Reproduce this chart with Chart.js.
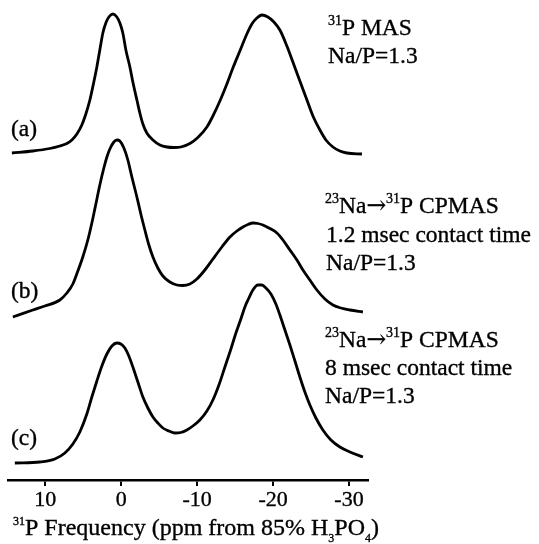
<!DOCTYPE html>
<html>
<head>
<meta charset="utf-8">
<script src="https://cdn.jsdelivr.net/npm/chart.js@4.4.0/dist/chart.umd.min.js"></script>
<style>
  html, body { margin: 0; padding: 0; background: #fff; }
</style>
</head>
<body>
<canvas id="nmr" width="539" height="544"></canvas>
<script>
// 31P chemical shift (ppm) and intensity (arb. units) for each spectrum
const ppmA = [14.39, 11.63, 9.39, 8.07, 7.15, 6.49, 5.83, 5.18, 4.65, 4.12, 3.60, 3.20, 2.81, 2.41, 2.02, 1.62, 1.09, 0.57, 0.17, -0.22, -0.62, -1.15, -1.54, -2.07, -2.46, -2.86, -3.38, -4.18, -5.10, -6.02, -6.94, -7.86, -9.05, -10.10, -11.29, -12.08, -13.00, -13.92, -14.71, -15.63, -16.55, -17.21, -17.87, -18.53, -19.32, -20.11, -20.90, -21.82, -22.61, -23.53, -24.46, -25.25, -26.17, -26.96, -27.88, -28.80, -29.72, -31.70];
const intA = [2, 4, 6.5, 9, 11.5, 15, 21, 30, 41, 55, 73, 88, 105, 122, 132, 138, 141, 138, 132, 122, 105, 88, 73, 55, 42, 31, 22, 15, 10, 8, 7.5, 8, 11.5, 17.5, 28, 39, 54, 71, 87, 104, 121, 131, 137, 140, 138, 133, 125, 109, 93, 74, 55, 39, 25, 15, 8, 4, 2, 1];

const ppmB = [14.26, 11.63, 10.05, 8.07, 7.15, 6.36, 5.70, 5.05, 4.39, 3.86, 3.33, 2.81, 2.28, 1.88, 1.49, 0.96, 0.57, 0.17, -0.36, -0.88, -1.41, -2.07, -2.59, -3.12, -3.65, -4.18, -4.83, -5.49, -6.41, -7.34, -8.13, -9.05, -9.97, -11.02, -12.08, -13.26, -14.32, -15.24, -16.03, -16.69, -17.34, -18.00, -18.66, -19.58, -20.51, -21.30, -22.22, -23.14, -23.93, -24.85, -25.77, -26.83, -27.88, -28.93, -30.12, -31.83];
const intB = [1, 8, 12, 18, 25, 34, 47, 61, 78, 95, 114, 133, 150, 161, 169, 176, 178, 177, 170, 158, 141, 121, 104, 88, 73, 61, 50, 42, 36, 33, 32.5, 34, 39, 48, 59, 71, 81, 87, 91, 93.5, 95, 94.5, 93, 89.5, 85, 78, 68, 58, 48, 38, 28, 19, 13, 10, 8, 6];

const ppmC = [14.00, 10.71, 8.73, 7.41, 6.36, 5.44, 4.52, 3.86, 3.20, 2.54, 1.88, 1.22, 0.57, 0.04, -0.49, -1.01, -1.54, -2.20, -2.86, -3.52, -4.18, -4.83, -5.49, -6.28, -7.07, -7.86, -8.65, -9.44, -10.36, -11.29, -12.08, -12.87, -13.66, -14.45, -15.11, -15.76, -16.29, -16.82, -17.34, -18.00, -18.53, -19.06, -19.72, -20.37, -20.90, -21.56, -22.22, -22.88, -23.53, -24.19, -24.85, -25.64, -26.56, -27.62, -28.80, -30.12, -31.83];
const intC = [2, 3, 6, 12, 21, 33, 51, 68, 84, 99, 111, 119, 122, 121, 117, 109, 98, 83, 68, 57, 48, 42, 37, 34, 32, 32.5, 35, 39, 45, 54, 65, 80, 98, 116, 132, 146, 158, 167, 175, 180, 180, 177, 171, 161, 150, 135, 120, 104, 88, 73, 60, 47, 35, 25, 18, 13, 8];

const xTicks = [10, 0, -10, -20, -30];

const SERIF = '"Liberation Serif", "Times New Roman", serif';
const ARROW_FONT = '"DejaVu Serif", serif';

function pairs(xs, ys) {
  return xs.map((x, i) => ({ x: x, y: ys[i] }));
}

function trace(xs, ys, axis) {
  return {
    data: pairs(xs, ys),
    yAxisID: axis,
    borderColor: '#000',
    borderWidth: 2.8,
    pointRadius: 0,
    fill: false,
    cubicInterpolationMode: 'monotone',
    clip: false
  };
}

// Text with superscript / subscript runs, drawn left to right
function drawRich(ctx, item) {
  let cx = item.x;
  for (const [text, mode, family] of item.parts) {
    const small = mode === 'sup' || mode === 'sub';
    const s = small ? item.small : item.size;
    const dy = mode === 'sup' ? -item.rise : (mode === 'sub' ? item.drop : 0);
    ctx.font = s + 'px ' + (family || SERIF);
    ctx.strokeText(text, cx, item.y + dy);
    ctx.fillText(text, cx, item.y + dy);
    cx += ctx.measureText(text).width;
  }
}

const captions = {
  id: 'captions',
  afterDraw(chart, args, opts) {
    const ctx = chart.ctx;
    ctx.save();
    ctx.fillStyle = '#000';
    ctx.strokeStyle = '#000';
    ctx.lineWidth = 0.35;
    ctx.textBaseline = 'alphabetic';
    ctx.textAlign = 'left';
    for (const item of opts.items) {
      drawRich(ctx, item);
    }
    ctx.restore();
  }
};

const arrowLine = [['23', 'sup'], ['Na'], ['\u2192', null, ARROW_FONT], ['31', 'sup'], ['P CPMAS']];

function caption(x, y, parts) {
  return { x: x, y: y, size: 23.5, small: 14, rise: 10, drop: 6, parts: parts };
}

new Chart(document.getElementById('nmr'), {
  type: 'line',
  data: {
    datasets: [
      trace(ppmA, intA, 'ya'),
      trace(ppmB, intB, 'yb'),
      trace(ppmC, intC, 'yc')
    ]
  },
  options: {
    responsive: false,
    animation: false,
    events: [],
    layout: { padding: { left: 8, right: 171, top: 0, bottom: 0 } },
    plugins: {
      legend: { display: false },
      tooltip: { enabled: false },
      title: { display: false },
      captions: {
        items: [
          caption(328, 35, [['31', 'sup'], ['P MAS']]),
          caption(328, 63, [['Na/P=1.3']]),
          caption(325, 213, arrowLine),
          caption(326, 242, [['1.2 msec contact time']]),
          caption(326, 270, [['Na/P=1.3']]),
          caption(325, 347, arrowLine),
          caption(325, 375, [['8 msec contact time']]),
          caption(325, 403, [['Na/P=1.3']]),
          caption(11, 136, [['(a)']]),
          caption(11, 298, [['(b)']]),
          caption(11, 445, [['(c)']]),
          { x: 13, y: 535, size: 24, small: 12, rise: 10, drop: 7,
            parts: [['31', 'sup'], ['P Frequency (ppm from 85% H'], ['3', 'sub'], ['PO'], ['4', 'sub'], [')']] }
        ]
      }
    },
    scales: {
      x: {
        type: 'linear',
        position: 'bottom',
        reverse: true,
        min: -32.5,
        max: 14.9,
        afterBuildTicks: (s) => { s.ticks = xTicks.map(v => ({ value: v })); },
        afterFit: (s) => { s.height = 64; },
        border: { display: true, color: '#000', width: 2.5 },
        grid: { drawOnChartArea: false, drawTicks: true, tickLength: 6, color: '#000', lineWidth: 2 },
        ticks: {
          color: '#000',
          padding: 1,
          maxRotation: 0,
          autoSkip: false,
          textStrokeColor: '#000',
          textStrokeWidth: 0.35,
          font: { family: SERIF, size: 22 },
          callback: (v) => String(v)
        }
      },
      ya: { display: false, min: -325, max: 155 },
      yb: { display: false, min: -162, max: 318 },
      yc: { display: false, min: -15, max: 465 }
    }
  },
  plugins: [captions]
});
</script>
</body>
</html>
